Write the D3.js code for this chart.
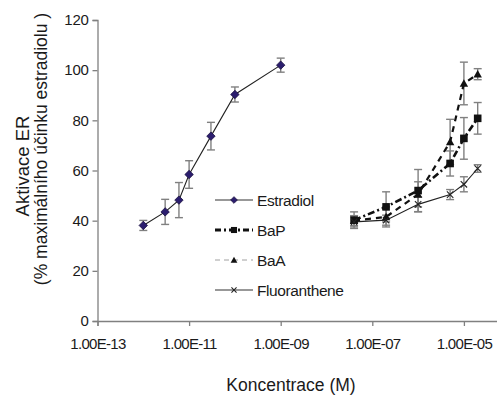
<!DOCTYPE html>
<html><head><meta charset="utf-8">
<script src="https://cdn.jsdelivr.net/npm/d3@7"></script>
<style>
html,body{margin:0;padding:0;background:#fff;}
svg{display:block;font-family:"Liberation Sans",Arial,sans-serif;}
</style></head>
<body>
<svg id="chart" width="497" height="396"></svg>
<script>
// ---- data ----
const estradiolConc = [1e-12, 3e-12, 6e-12, 1e-11, 3e-11, 1e-10, 1e-9];
const estradiolVal  = [38.1, 43.5, 48.2, 58.4, 73.7, 90.3, 102];
const estradiolErr  = [2, 5, 7, 5.5, 5.5, 3, 2.8];

const pahConc  = [4e-8, 2e-7, 1e-6, 5e-6, 1e-5, 2e-5];
const bapVal   = [40.2, 45.5, 52, 62.8, 72.8, 80.8];
const bapErr   = [3.3, 6, 8.4, 5, 8.3, 6.3];
const baaVal   = [40, 41.5, 50.5, 71.4, 94.7, 98.4];
const baaErr   = [2, 4, 5, 9, 8.5, 2.2];
const fluVal   = [39.5, 40.2, 46.5, 50.4, 54.5, 60.8];
const fluErr   = [2, 2, 3, 2, 3, 1.5];

const xTicks = [1e-13, 1e-11, 1e-9, 1e-7, 1e-5];
const xTickLabels = ["1.00E-13", "1.00E-11", "1.00E-09", "1.00E-07", "1.00E-05"];
const yTicks = [0, 20, 40, 60, 80, 100, 120];

const seriesNames = ["Estradiol", "BaP", "BaA", "Fluoranthene"];

// ---- chart ----
const svg = d3.select("#chart");
const x = d3.scaleLog().domain([1e-13, 1e-3]).range([97.5, 555.5]);
const y = d3.scaleLinear().domain([0, 120]).range([321, 20]);
const axisColor = "#808080";
const textColor = "#1a1a1a";

// axes
const gx = svg.append("g").attr("transform", "translate(0,321)")
  .call(d3.axisBottom(x).tickValues(xTicks).tickFormat((d, i) => xTickLabels[i]).tickSize(5).tickPadding(12));
const gy = svg.append("g").attr("transform", "translate(97.5,0)")
  .call(d3.axisLeft(y).tickValues(yTicks).tickSize(5).tickPadding(4));
[gx, gy].forEach(g => {
  g.select(".domain").attr("stroke", axisColor).attr("stroke-width", 1.3);
  g.selectAll(".tick line").attr("stroke", axisColor).attr("stroke-width", 1.3);
  g.selectAll(".tick text").attr("fill", textColor).attr("font-size", 15)
    .attr("font-family", "Liberation Sans, Arial, sans-serif");
});
gx.selectAll(".tick text").attr("letter-spacing", "-0.7px");
gy.selectAll(".tick text").attr("letter-spacing", "-0.3px");

// axis titles
svg.append("text").attr("x", 291).attr("y", 391).attr("text-anchor", "middle")
  .attr("font-size", 17.5).attr("fill", textColor).text("Koncentrace (M)");
svg.append("text").attr("transform", "translate(29,166) rotate(-90)").attr("text-anchor", "middle")
  .attr("font-size", 18.5).attr("fill", textColor).text("Aktivace ER");
svg.append("text").attr("transform", "translate(47,149) rotate(-90)").attr("text-anchor", "middle")
  .attr("font-size", 17.5).attr("fill", textColor).text("(% maximálního účinku estradiolu )");

// series definitions
const series = [
  {name: seriesNames[0], conc: estradiolConc, val: estradiolVal, err: estradiolErr,
   stroke: "#222", width: 1.1, dash: null, marker: "diamond"},
  {name: seriesNames[1], conc: pahConc, val: bapVal, err: bapErr,
   stroke: "#111", width: 2.6, dash: "7,3,2,3", marker: "square"},
  {name: seriesNames[2], conc: pahConc, val: baaVal, err: baaErr,
   stroke: "#111", width: 2.2, dash: "6,5", marker: "triangle"},
  {name: seriesNames[3], conc: pahConc, val: fluVal, err: fluErr,
   stroke: "#222", width: 1.1, dash: null, marker: "x"}
];

// error bars
const eb = svg.append("g");
series.forEach(s => {
  s.conc.forEach((c, i) => {
    const cx = x(c), y1 = y(s.val[i] + s.err[i]), y2 = y(s.val[i] - s.err[i]);
    const g = eb.append("g").attr("stroke", axisColor).attr("stroke-width", 1.4);
    g.append("line").attr("x1", cx).attr("x2", cx).attr("y1", y1).attr("y2", y2);
    g.append("line").attr("x1", cx - 4).attr("x2", cx + 4).attr("y1", y1).attr("y2", y1);
    g.append("line").attr("x1", cx - 4).attr("x2", cx + 4).attr("y1", y2).attr("y2", y2);
  });
});

// lines
const line = d3.line().x(d => x(d[0])).y(d => y(d[1]));
series.forEach(s => {
  svg.append("path").datum(s.conc.map((c, i) => [c, s.val[i]]))
    .attr("d", line).attr("fill", "none").attr("stroke", s.stroke)
    .attr("stroke-width", s.width).attr("stroke-dasharray", s.dash);
});

// markers
function drawMarker(g, type, cx, cy, scale) {
  const k = scale || 1;
  if (type === "diamond") {
    const r = 4.2 * k;
    g.append("path").attr("d", `M${cx},${cy - r}L${cx + r},${cy}L${cx},${cy + r}L${cx - r},${cy}Z`)
      .attr("fill", "#2b1d6e").attr("stroke", "#1a1040").attr("stroke-width", 0.8);
  } else if (type === "square") {
    const r = 3.8 * k;
    g.append("rect").attr("x", cx - r).attr("y", cy - r).attr("width", 2 * r).attr("height", 2 * r)
      .attr("fill", "#111");
  } else if (type === "triangle") {
    const r = 4.2 * k;
    g.append("path").attr("d", `M${cx},${cy - r}L${cx + r},${cy + r * 0.8}L${cx - r},${cy + r * 0.8}Z`)
      .attr("fill", "#111");
  } else if (type === "x") {
    const r = 3.2 * k;
    g.append("path").attr("d", `M${cx - r},${cy - r}L${cx + r},${cy + r}M${cx - r},${cy + r}L${cx + r},${cy - r}`)
      .attr("stroke", "#222").attr("stroke-width", 1.1);
  }
}
const mk = svg.append("g");
series.forEach(s => {
  s.conc.forEach((c, i) => drawMarker(mk, s.marker, x(c), y(s.val[i])));
});

// legend
const legendStyles = [
  {stroke: "#333", width: 1.1, dash: null},
  {stroke: "#111", width: 3, dash: "6,3,2,3"},
  {stroke: "#a0a0a0", width: 1, dash: "5,4"},
  {stroke: "#333", width: 1.1, dash: null}
];
const lg = svg.append("g");
series.forEach((s, i) => {
  const ly = 200 + i * 30;
  const st = legendStyles[i];
  lg.append("line").attr("x1", 215).attr("x2", 253).attr("y1", ly).attr("y2", ly)
    .attr("stroke", st.stroke).attr("stroke-width", st.width).attr("stroke-dasharray", st.dash);
  drawMarker(lg, s.marker, 234, ly, 0.8);
  lg.append("text").attr("x", 257).attr("y", ly).attr("dy", "0.36em")
    .attr("font-size", 15.5).attr("letter-spacing", "-0.4px").attr("fill", textColor).text(s.name);
});
</script>
</body></html>
